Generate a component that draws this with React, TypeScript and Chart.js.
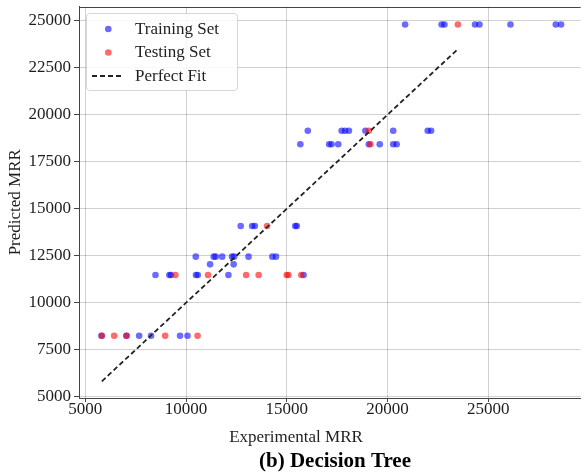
import React, { useEffect, useRef } from "react";
import { Chart, registerables } from "chart.js";

Chart.register(...registerables);

const FONT = "'Liberation Serif', 'Times New Roman', Times, serif";
const TEXT = "#1e1e1e";
const SPINE = "#444444";
const GRID = "rgba(0,0,0,0.18)";

// Training set (blue) – experimental vs predicted MRR
const trainX = [
  20870, 22680, 22820, 24340, 24560, 26100, 28350, 28610,
  16040, 17720, 17890, 18080, 18900, 20280, 21990, 22160,
  15670, 17100, 17220, 17550, 19070, 19610, 20280, 20450,
  12710, 13280, 13410, 15420, 15490,
  10480, 11370, 11470, 11790, 12280, 12380, 13100, 14280, 14460,
  11190, 12360,
  8480, 9170, 9250, 10490, 10580, 12100, 15830,
  5800, 7040, 7670, 8260, 9700, 10070,
];
const trainY = [
  24800, 24800, 24800, 24800, 24800, 24800, 24800, 24800,
  19150, 19150, 19150, 19150, 19150, 19150, 19150, 19150,
  18430, 18430, 18430, 18430, 18430, 18430, 18430, 18430,
  14080, 14080, 14080, 14080, 14080,
  12450, 12450, 12450, 12450, 12450, 12450, 12450, 12450, 12450,
  12040, 12040,
  11470, 11470, 11470, 11470, 11470, 11470, 11470,
  8245, 8245, 8245, 8245, 8245, 8245,
];

// Testing set (red)
const testX = [23490, 19070, 19150, 14020, 9470, 11090, 12980, 13600, 14990, 15080, 15720, 5820, 6430, 7040, 8960, 10570];
const testY = [24800, 19150, 18430, 14080, 11470, 11470, 11470, 11470, 11470, 11470, 11470, 8245, 8245, 8245, 8245, 8245];

// Perfect fit line (y = x)
const fitX = [5820, 23490];
const fitY = [5820, 23490];

// Axes
const xTicks = [5000, 10000, 15000, 20000, 25000];
const yTicks = [5000, 7500, 10000, 12500, 15000, 17500, 20000, 22500, 25000];
const xRange = [4684, 29585];
const yRange = [4931, 25755];

const xLabel = "Experimental MRR";
const yLabel = "Predicted MRR";
const caption = "(b) Decision Tree";

export default function App() {
  const canvasRef = useRef<HTMLCanvasElement | null>(null);

  useEffect(() => {
    const canvas = canvasRef.current;
    if (!canvas) return;
    const toPts = (xs: number[], ys: number[]) => xs.map((x, i) => ({ x, y: ys[i] }));

    const framePlugin = {
      id: "frameTop",
      afterDatasetsDraw(chart: any) {
        const { ctx, chartArea } = chart;
        ctx.save();
        ctx.strokeStyle = SPINE;
        ctx.lineWidth = 1;
        ctx.beginPath();
        const y = Math.round(chartArea.top) + 0.5;
        ctx.moveTo(chartArea.left, y);
        ctx.lineTo(chartArea.right, y);
        ctx.stroke();
        ctx.restore();
      },
    };

    const legendPlugin = {
      id: "insideLegend",
      afterDraw(chart: any) {
        const ctx = chart.ctx as CanvasRenderingContext2D;
        const ds = chart.data.datasets;
        const bx = 86.5, by = 13.5, bw = 151, bh = 77, r = 3;
        ctx.save();
        ctx.beginPath();
        ctx.moveTo(bx + r, by);
        ctx.lineTo(bx + bw - r, by);
        ctx.arcTo(bx + bw, by, bx + bw, by + r, r);
        ctx.lineTo(bx + bw, by + bh - r);
        ctx.arcTo(bx + bw, by + bh, bx + bw - r, by + bh, r);
        ctx.lineTo(bx + r, by + bh);
        ctx.arcTo(bx, by + bh, bx, by + bh - r, r);
        ctx.lineTo(bx, by + r);
        ctx.arcTo(bx, by, bx + r, by, r);
        ctx.closePath();
        ctx.fillStyle = "rgba(255,255,255,0.85)";
        ctx.fill();
        ctx.strokeStyle = "#d6d6d6";
        ctx.lineWidth = 1;
        ctx.stroke();

        const rows = [29, 52.5, 76];
        ctx.font = `17px ${FONT}`;
        ctx.textBaseline = "middle";
        ctx.textAlign = "left";
        ds.forEach((d: any, i: number) => {
          const y = rows[i];
          if (d.type === "line") {
            ctx.beginPath();
            ctx.setLineDash(d.borderDash || []);
            ctx.strokeStyle = d.borderColor;
            ctx.lineWidth = d.borderWidth;
            ctx.moveTo(92, y);
            ctx.lineTo(124, y);
            ctx.stroke();
            ctx.setLineDash([]);
          } else {
            ctx.beginPath();
            ctx.fillStyle = d.backgroundColor;
            ctx.arc(108.3, y, d.pointRadius, 0, Math.PI * 2);
            ctx.fill();
          }
          ctx.fillStyle = TEXT;
          ctx.fillText(d.label, 135, y + 0.5);
        });
        ctx.restore();
      },
    };

    const captionPlugin = {
      id: "captions",
      afterDraw(chart: any) {
        const ctx = chart.ctx as CanvasRenderingContext2D;
        ctx.save();
        ctx.fillStyle = TEXT;
        ctx.textAlign = "center";
        ctx.textBaseline = "alphabetic";
        ctx.font = `17px ${FONT}`;
        ctx.fillText(xLabel, 296, 441.5);
        ctx.fillStyle = "#000";
        ctx.font = `bold 21px ${FONT}`;
        ctx.fillText(caption, 335, 466.5);
        ctx.restore();
      },
    };

    const chart = new Chart(canvas, {
      type: "scatter",
      data: {
        datasets: [
          {
            label: "Training Set",
            data: toPts(trainX, trainY),
            backgroundColor: "rgba(0,0,255,0.58)",
            borderWidth: 0,
            pointRadius: 3.3,
            pointHoverRadius: 3.3,
            order: 2,
          } as any,
          {
            label: "Testing Set",
            data: toPts(testX, testY),
            backgroundColor: "rgba(255,0,0,0.58)",
            borderWidth: 0,
            pointRadius: 3.3,
            pointHoverRadius: 3.3,
            order: 1,
          } as any,
          {
            type: "line",
            label: "Perfect Fit",
            data: toPts(fitX, fitY),
            borderColor: "#222222",
            borderWidth: 1.8,
            borderDash: [5, 3],
            pointRadius: 0,
            fill: false,
            showLine: true,
            order: 0,
          } as any,
        ],
      },
      options: {
        responsive: false,
        animation: false,
        devicePixelRatio: 1,
        events: [],
        layout: { padding: { top: 6.5, right: 0, bottom: 0, left: 0 } },
        plugins: {
          legend: { display: false },
          title: { display: false },
          tooltip: { enabled: false },
        },
        scales: {
          x: {
            type: "linear",
            position: "bottom",
            min: xRange[0],
            max: xRange[1],
            afterBuildTicks: (s: any) => {
              s.ticks = xTicks.map((v) => ({ value: v }));
            },
            afterFit: (s: any) => {
              s.height = 74;
              s.paddingLeft = 0;
              s.paddingRight = 0;
            },
            grid: { color: GRID, lineWidth: 1, tickLength: 4, tickColor: SPINE, drawTicks: true },
            border: { display: true, color: SPINE, width: 1 },
            ticks: {
              color: TEXT,
              font: { family: FONT, size: 17, lineHeight: 1 },
              padding: -0.5,
              maxRotation: 0,
              autoSkip: false,
              callback: (v: any) => String(v),
            },
            title: { display: false },
          },
          y: {
            type: "linear",
            position: "left",
            min: yRange[0],
            max: yRange[1],
            afterBuildTicks: (s: any) => {
              s.ticks = yTicks.map((v) => ({ value: v }));
            },
            afterFit: (s: any) => {
              s.width = 79;
              s.paddingTop = 0;
              s.paddingBottom = 0;
            },
            grid: { color: GRID, lineWidth: 1, tickLength: 5, tickColor: SPINE, drawTicks: true },
            border: { display: true, color: SPINE, width: 1 },
            ticks: {
              color: TEXT,
              font: { family: FONT, size: 17, lineHeight: 1 },
              padding: 3,
              autoSkip: false,
              callback: (v: any) => String(v),
            },
            title: {
              display: true,
              text: yLabel,
              color: TEXT,
              font: { family: FONT, size: 17, lineHeight: 1.2 },
              padding: { top: 5, bottom: 0 },
            },
          },
        },
      } as any,
      plugins: [framePlugin, legendPlugin, captionPlugin],
    });

    return () => chart.destroy();
  }, []);

  return (
    <div style={{ position: "fixed", left: 0, top: 0, width: 584, height: 472, background: "#ffffff" }}>
      <canvas ref={canvasRef} width={584} height={472} style={{ display: "block", width: 584, height: 472 }} />
    </div>
  );
}
